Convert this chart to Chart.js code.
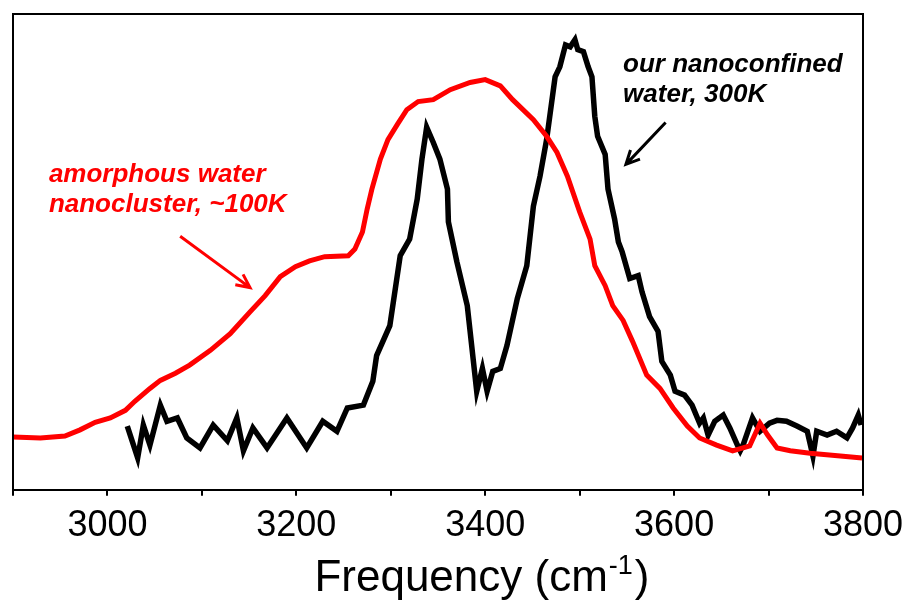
<!DOCTYPE html>
<html>
<head>
<meta charset="utf-8">
<script src="https://cdn.jsdelivr.net/npm/chart.js@4"></script>
<style>
  html, body { margin: 0; padding: 0; background: #fff; }
  #wrap { width: 909px; height: 601px; }
</style>
</head>
<body>
<div id="wrap"><canvas id="ramanChart"></canvas></div>
<script>
// ===== data (x in cm-1, y in arbitrary units) =====
const redX = [2900, 2929, 2955, 2971, 2987, 3003, 3019, 3029, 3045, 3056, 3072, 3087, 3109, 3130, 3151, 3167, 3183, 3199, 3214, 3230,
  3255, 3262, 3270, 3275, 3280, 3289, 3297, 3307, 3317, 3329, 3345, 3363, 3384, 3400, 3416, 3429, 3451, 3465, 3476, 3487,
  3500, 3511, 3516, 3527, 3535, 3546, 3556, 3571, 3585, 3599, 3614, 3627, 3645, 3662, 3680, 3691, 3699, 3709, 3723, 3744,
  3776, 3799];
const redY = [11.1, 10.9, 11.3, 12.6, 14.2, 15.1, 16.7, 18.6, 21.3, 23.0, 24.5, 26.2, 29.3, 32.8, 37.4, 40.8, 44.8, 46.9, 48.1, 49.0,
  49.2, 50.6, 54.2, 59.0, 63.2, 69.5, 73.6, 76.8, 79.9, 81.6, 82.0, 84.1, 85.6, 86.2, 84.9, 82.0, 77.8, 74.3, 70.9, 65.9,
  58.4, 52.7, 47.1, 42.9, 38.7, 35.6, 31.2, 24.1, 21.3, 17.2, 13.4, 10.9, 9.4, 8.2, 9.2, 14.0, 11.5, 8.8, 8.2, 7.7,
  7.1, 6.7];

const blackX = [3021, 3032, 3038, 3045, 3056, 3063, 3074, 3084, 3098, 3112, 3127, 3137, 3144, 3154, 3169, 3190, 3211, 3228, 3243, 3254,
  3271, 3281, 3285, 3299, 3310, 3320, 3328, 3333, 3338, 3345, 3352, 3360, 3361, 3370, 3381, 3391, 3397, 3402, 3408, 3416,
  3423, 3434, 3444, 3451, 3458, 3465, 3474, 3479, 3485, 3490, 3495, 3498, 3504, 3509, 3513, 3516, 3519, 3527, 3530, 3537,
  3541, 3545, 3553, 3562, 3566, 3574, 3583, 3587, 3596, 3601, 3611, 3619, 3627, 3631, 3636, 3643, 3652, 3659, 3667, 3670,
  3673, 3683, 3691, 3701, 3709, 3719, 3730, 3741, 3747, 3751, 3762, 3772, 3783, 3789, 3795, 3798];
const blackY = [13.4, 6.7, 13.6, 9.4, 17.8, 14.4, 15.1, 10.9, 8.8, 13.6, 10.3, 15.1, 8.2, 13.0, 8.8, 15.1, 8.8, 14.4, 12.3, 17.2,
  17.8, 22.8, 28.2, 34.5, 49.2, 52.7, 61.1, 69.5, 76.2, 73.0, 69.5, 63.2, 56.3, 47.9, 38.7, 20.7, 25.5, 20.7, 24.9, 25.5,
  30.3, 40.2, 47.1, 59.6, 65.9, 73.6, 86.8, 88.9, 93.5, 93.1, 94.6, 92.5, 92.1, 88.9, 86.8, 78.5, 74.3, 70.5, 63.2, 56.9,
  52.1, 50.0, 44.4, 45.0, 41.6, 36.4, 33.3, 27.0, 24.1, 20.7, 19.9, 17.8, 14.0, 15.1, 11.5, 14.4, 15.7, 13.0, 9.4, 8.2,
  9.4, 15.1, 12.3, 14.0, 14.6, 14.4, 13.4, 12.3, 7.1, 12.3, 11.5, 12.3, 10.9, 13.0, 15.7, 13.6];

const xTickLabels = ["3000", "3200", "3400", "3600", "3800"];

const toPoints = (xs, ys) => xs.map((x, i) => ({ x: x, y: ys[i] }));

// ===== annotations: frame box, axis title, labels and arrows =====
const annotate = {
  id: "annotate",
  afterDraw(chart) {
    const { ctx, chartArea: a, scales: { x, y } } = chart;
    ctx.save();
    // frame (bottom edge is drawn by the x axis border)
    ctx.strokeStyle = "#000";
    ctx.lineWidth = 2;
    ctx.beginPath();
    ctx.moveTo(a.left, a.bottom);
    ctx.lineTo(a.left, a.top);
    ctx.lineTo(a.right, a.top);
    ctx.lineTo(a.right, a.bottom);
    ctx.stroke();

    // axis title with a real superscript
    const fam = "'Liberation Sans', Arial, sans-serif";
    const main = "Frequency (cm", sup = "-1", close = ")";
    ctx.fillStyle = "#000";
    ctx.textBaseline = "alphabetic";
    ctx.font = "44px " + fam;
    const wMain = ctx.measureText(main).width, wClose = ctx.measureText(close).width;
    ctx.font = "27px " + fam;
    const wSup = ctx.measureText(sup).width;
    const total = wMain + wSup + 2 + wClose;
    const tx = x.getPixelForValue(3396) - total / 2;
    const ty = a.bottom + 101;
    ctx.font = "44px " + fam;
    ctx.fillText(main, tx, ty);
    ctx.font = "27px " + fam;
    ctx.fillText(sup, tx + wMain + 1, ty - 17);
    ctx.font = "44px " + fam;
    ctx.fillText(close, tx + wMain + wSup + 3, ty);

    ctx.font = "italic bold 26px " + fam;
    ctx.fillStyle = "#ff0000";
    ctx.fillText("amorphous water", x.getPixelForValue(2938), y.getPixelForValue(64.6));
    ctx.fillText("nanocluster, ~100K", x.getPixelForValue(2938), y.getPixelForValue(58.4));
    ctx.fillStyle = "#000";
    ctx.fillText("our nanoconfined", x.getPixelForValue(3546), y.getPixelForValue(87.9));
    ctx.fillText("water, 300K", x.getPixelForValue(3546), y.getPixelForValue(81.4));

    function arrow(x0, y0, x1, y1, color) {
      const px0 = x.getPixelForValue(x0), py0 = y.getPixelForValue(y0);
      const px1 = x.getPixelForValue(x1), py1 = y.getPixelForValue(y1);
      const ang = Math.atan2(py1 - py0, px1 - px0);
      ctx.strokeStyle = color;
      ctx.lineWidth = 3;
      ctx.beginPath();
      ctx.moveTo(px0, py0);
      ctx.lineTo(px1, py1);
      ctx.moveTo(px1 - 15 * Math.cos(ang - 0.45), py1 - 15 * Math.sin(ang - 0.45));
      ctx.lineTo(px1, py1);
      ctx.lineTo(px1 - 15 * Math.cos(ang + 0.45), py1 - 15 * Math.sin(ang + 0.45));
      ctx.stroke();
    }
    arrow(3077, 53.3, 3151, 42.5, "#ff0000");
    arrow(3591, 77.2, 3549, 68.4, "#000");
    ctx.restore();
  }
};

new Chart(document.getElementById("ramanChart").getContext("2d"), {
  type: "line",
  data: {
    datasets: [{
      label: "amorphous water nanocluster, ~100K",
      data: toPoints(redX, redY),
      borderColor: "#ff0000",
      borderWidth: 5,
      pointRadius: 0,
      tension: 0
    }, {
      label: "our nanoconfined water, 300K",
      data: toPoints(blackX, blackY),
      borderColor: "#000",
      borderWidth: 5.5,
      pointRadius: 0,
      tension: 0
    }]
  },
  options: {
    responsive: true,
    maintainAspectRatio: false,
    animation: false,
    layout: { padding: { left: 13, right: 46, top: 14, bottom: 44 } },
    plugins: { legend: { display: false }, tooltip: { enabled: false } },
    scales: {
      x: {
        type: "linear",
        min: 2900,
        max: 3800,
        // the "3800" label may hang into the right margin
        afterFit: (scale) => { scale.paddingRight = 0; scale.paddingLeft = 0; },
        ticks: {
          stepSize: 100,
          color: "#000",
          padding: 9,
          maxRotation: 0,
          autoSkip: false,
          font: { family: "'Liberation Sans', Arial, sans-serif", size: 36 },
          callback: (v) => xTickLabels.includes(String(v)) ? String(v) : ""
        },
        grid: { drawOnChartArea: false, drawTicks: true, tickLength: 6, color: "#000", lineWidth: 2 },
        border: { display: true, color: "#000", width: 2 },
        title: { display: false }
      },
      y: {
        display: false,
        min: 0,
        max: 100
      }
    }
  },
  plugins: [annotate]
});
</script>
</body>
</html>
